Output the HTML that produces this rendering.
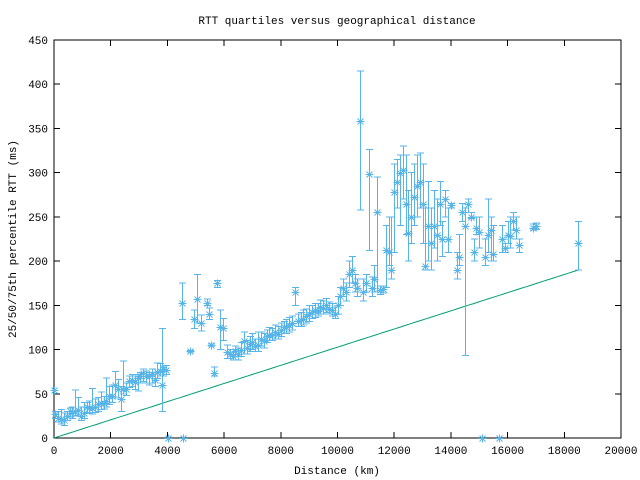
<!DOCTYPE html><html><head><style>body{margin:0;background:#fff}svg{display:block}path{shape-rendering:crispEdges}text{font-family:"Liberation Mono","DejaVu Sans Mono",monospace;font-size:11px;fill:#000}</style></head><body>
<svg id="s" width="640" height="480" xmlns="http://www.w3.org/2000/svg">
<rect width="640" height="480" fill="#fff"/>
<text x="337" y="24" text-anchor="middle">RTT quartiles versus geographical distance</text>
<text x="337" y="474" text-anchor="middle">Distance (km)</text>
<text transform="translate(16,239) rotate(-90)" text-anchor="middle">25/50/75th percentile RTT (ms)</text>
<g id="g"></g>
</svg>
<script>
var X0=54,X1=621,Y0=438,Y1=40;
function px(x){return X0+(X1-X0)*x/20000}function py(y){return Y0-(Y0-Y1)*y/450}
var o='';
o+='<rect x="'+X0+'" y="'+Y1+'" width="'+(X1-X0)+'" height="'+(Y0-Y1)+'" fill="none" stroke="#000"/>';
for(var v=0;v<=450;v+=50){var y=py(v);o+='<path d="M'+X0+' '+y+'h6M'+X1+' '+y+'h-6" stroke="#000"/><text x="'+(X0-6)+'" y="'+(y+4)+'" text-anchor="end">'+v+'</text>';}
for(var v=0;v<=20000;v+=2000){var x=px(v);o+='<path d="M'+x+' '+Y0+'v-6M'+x+' '+Y1+'v6" stroke="#000"/><text x="'+x+'" y="'+(Y0+16)+'" text-anchor="middle">'+v+'</text>';}
var s='';for(var i=0;i<=100;i++){var d=18500*i/100;s+=(i?'L':'M')+px(d).toFixed(1)+' '+py(d*190/18500).toFixed(1);}
o+='<path d="'+s+'" stroke="#009e73" fill="none" style="shape-rendering:auto"/>';
var D=[[0,54],[50,27,22,30],[150,23,18,30],[250,22,16,32],[350,20,14,28],[450,25,20,30],[550,30,24,34],[650,28,22,35],[750,30,25,54],[850,32,26,46],[950,25,20,35],[1050,28,22,40],[1150,35,29,40],[1250,34,28,42],[1350,34,27,56],[1450,35,29,44],[1550,38,30,46],[1650,40,32,52],[1750,40,33,47],[1850,42,35,68],[1950,48,38,58],[2050,47,40,60],[2150,60,45,75],[2250,55,45,66],[2350,44,30,58],[2450,55,50,87],[2550,55,48,62],[2650,65,57,70],[2750,66,58,72],[2850,63,55,70],[2950,68,53,72],[3050,70,62,74],[3150,74,64,78],[3250,70,62,76],[3350,70,60,74],[3450,72,62,78],[3550,66,58,74],[3650,75,67,85],[3750,76,70,84],[3800,60,30,124],[3850,78,70,80],[3950,77,72,82],
[4020,0],[4550,0],[4500,153,134,175],[4800,98,97,99],[4950,135,124,145],[5050,157,130,185],[5200,130,121,139],[5400,153,150,157],[5450,140,134,147],[5550,105,104,106],[5650,74,70,80],[5750,175,170,178],[5850,125,100,145],[5950,124,110,135],
[6100,97,90,105],[6200,95,90,100],[6300,93,88,100],[6400,98,92,104],[6500,95,88,102],[6600,100,92,108],[6700,110,95,120],[6800,102,95,110],[6900,106,98,115],[7000,108,100,118],[7100,104,98,112],[7200,105,98,120],[7300,112,104,120],[7400,110,102,118],[7500,115,108,122],[7600,117,110,125],[7700,116,110,124],[7800,120,112,128],[7900,118,112,126],[8000,122,115,130],[8100,126,118,132],[8200,125,118,134],[8300,128,120,136],[8400,130,122,138],[8500,165,150,170],[8600,132,126,140],[8700,133,126,142],[8800,135,128,145],[8900,138,130,146],[9000,140,132,150],[9100,142,135,150],[9200,145,136,152],[9300,144,138,152],[9400,148,140,156],[9500,147,140,155],[9600,150,142,158],[9700,146,140,154],[9800,145,138,152],[9900,140,135,148],[10000,150,140,160],[10100,160,150,170],[10200,170,160,180],[10300,165,155,175],[10400,185,170,200],[10500,190,175,205],[10600,175,165,185],[10700,170,160,180],[10800,358,258,415],[10900,165,155,180],[11000,175,165,185],[11100,298,212,326],[11200,170,160,182],[11300,180,165,195],[11400,255,165,295],[11500,167,162,172],[11600,168,164,172],[11700,212,170,240],[11800,210,195,250],[11900,190,180,250],[12000,278,210,310],[12100,290,260,315],[12200,300,240,320],[12300,303,270,330],[12400,265,230,320],[12500,232,200,280],[12600,250,220,300],[12700,273,240,310],[12800,285,250,320],[12900,290,260,322],[13000,265,220,310],[13100,195,190,260],[13200,240,200,290],[13300,220,190,260],[13400,240,215,280],[13500,230,200,270],[13600,265,240,290],[13700,225,205,245],[13800,270,250,280],[13900,225,210,260],[14000,263,260,265],[14200,190,180,210],[14300,205,195,230],[14400,255,245,265],[14500,240,93,260],[14600,265,255,270],[14700,250,248,255],[14800,210,200,225],[14900,238,230,250],[15000,233,215,250],[15100,0],[15200,205,195,225],[15300,230,210,270],[15400,235,200,250],[15500,208,200,240],[15700,0],[15800,225,210,240],[15900,215,210,220],[16000,230,220,245],[16100,228,215,250],[16200,245,235,255],[16300,235,225,250],[16400,218,210,225],[16900,238,235,242],[17000,240,236,243],[18500,220,190,245]];
var c='#56b4e9';
D.forEach(function(d){var x=Math.round(px(d[0]))+0.5,y=Math.round(py(d[1]))+0.5;
if(d.length>2){var a=py(d[2]),b=py(d[3]);o+='<path d="M'+x+' '+a+'V'+b+'M'+(x-3.5)+' '+a+'h7M'+(x-3.5)+' '+b+'h7" stroke="'+c+'" fill="none"/>';}
o+='<path d="M'+(x-4)+' '+y+'h8M'+x+' '+(y-4)+'v8M'+(x-3)+' '+(y-3)+'l6 6M'+(x-3)+' '+(y+3)+'l6 -6" stroke="'+c+'" fill="none" style="shape-rendering:auto"/>';});
document.getElementById('g').innerHTML=o;
</script></body></html>
